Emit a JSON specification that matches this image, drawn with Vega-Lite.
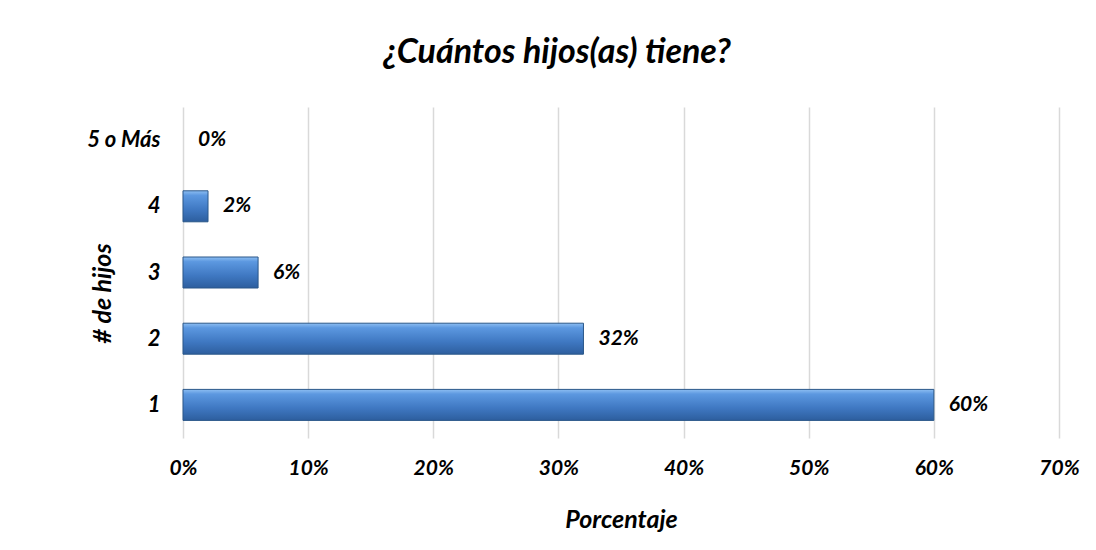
{
  "$schema": "https://vega.github.io/schema/vega-lite/v6.json",
  "autosize": {"type": "none"},
  "width": 876,
  "height": 331,
  "padding": {"left": 183, "top": 107, "right": 37, "bottom": 112},
  "background": "white",
  "config": {
    "view": {"stroke": null},
    "font": "Lato",
    "axis": {"labelFont": "Lato", "titleFont": "Lato", "labelFontStyle": "italic", "titleFontStyle": "italic", "labelFontWeight": "bold", "titleFontWeight": "bold", "labelColor": "#000000", "titleColor": "#000000"}
  },
  "title": {
    "text": "¿Cuántos hijos(as) tiene?",
    "anchor": "middle",
    "frame": "group",
    "dx": -64,
    "offset": 10,
    "baseline": "alphabetic",
    "font": "Lato",
    "fontSize": 34,
    "fontStyle": "italic",
    "fontWeight": "bold",
    "color": "#000000"
  },
  "data": {
    "values": [
      {"hijos": "5 o Más", "pct": 0},
      {"hijos": "4", "pct": 0.02},
      {"hijos": "3", "pct": 0.06},
      {"hijos": "2", "pct": 0.32},
      {"hijos": "1", "pct": 0.60}
    ]
  },
  "encoding": {
    "y": {
      "field": "hijos",
      "type": "nominal",
      "sort": ["5 o Más", "4", "3", "2", "1"],
      "scale": {"paddingInner": 0, "paddingOuter": 0},
      "axis": {
        "title": "# de hijos",
        "titleFontSize": 25,
        "titleX": -81,
        "titleY": 186,
        "titleAngle": -90,
        "titleAlign": "center",
        "titleBaseline": "middle",
        "labelFontSize": 22,
        "labelPadding": 23,
        "ticks": false,
        "domain": false,
        "grid": false
      }
    },
    "x": {
      "field": "pct",
      "type": "quantitative",
      "scale": {"domain": [0, 0.7], "nice": false},
      "axis": {
        "title": "Porcentaje",
        "titleFontSize": 25,
        "titleY": 81,
        "titleBaseline": "middle",
        "format": ".0%",
        "values": [0, 0.1, 0.2, 0.3, 0.4, 0.5, 0.6, 0.7],
        "labelFontSize": 21,
        "labelPadding": 19,
        "labelFlush": false,
        "ticks": false,
        "domain": false,
        "grid": true,
        "gridColor": "#D9D9D9",
        "gridWidth": 1.5
      }
    }
  },
  "layer": [
    {
      "mark": {
        "type": "bar",
        "size": 31,
        "stroke": "#2A5789",
        "strokeWidth": 1,
        "color": {
          "gradient": "linear",
          "x1": 0, "y1": 0, "x2": 0, "y2": 1,
          "stops": [
            {"offset": 0, "color": "#8DBEF2"},
            {"offset": 0.15, "color": "#5C98E0"},
            {"offset": 0.6, "color": "#3F78C2"},
            {"offset": 1, "color": "#2D5E9E"}
          ]
        }
      },
      "encoding": {
        "strokeOpacity": {"condition": {"test": "datum.pct === 0", "value": 0}, "value": 1}
      }
    },
    {
      "mark": {
        "type": "text",
        "align": "left",
        "baseline": "middle",
        "dx": 15,
        "font": "Lato",
        "fontSize": 21,
        "fontStyle": "italic",
        "fontWeight": "bold",
        "color": "#000000"
      },
      "encoding": {
        "text": {"field": "pct", "type": "quantitative", "format": ".0%"}
      }
    }
  ]
}
